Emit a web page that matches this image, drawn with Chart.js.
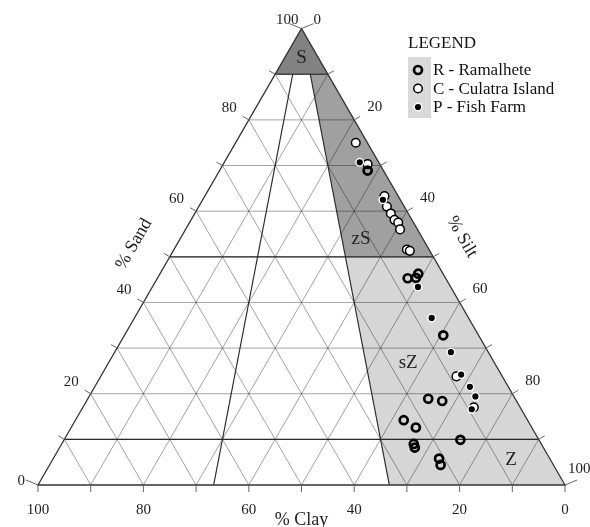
<!DOCTYPE html>
<html>
<head>
<meta charset="utf-8">
<script src="https://cdn.jsdelivr.net/npm/chart.js"></script>
<style>
  html, body { margin: 0; padding: 0; background: #fff; }
  #tern { display: block; }
</style>
</head>
<body>
<canvas id="tern" width="590" height="527"></canvas>
<script>
/* data - % sand / % silt / % clay for each sample */
const ramSand = [68.9, 45.3, 46.3, 45.4, 32.8, 18.9, 18.4, 14.2, 12.6, 9.0, 8.2, 9.9, 5.8, 4.4];
const ramSilt = [28.1, 47.5, 49.0, 49.0, 60.5, 64.6, 67.5, 62.3, 65.4, 66.8, 67.4, 75.2, 73.2, 74.2];
const ramClay = [3.0, 7.2, 4.7, 5.6, 6.7, 16.5, 14.1, 23.5, 22.0, 24.2, 24.4, 14.9, 21.0, 21.4];

const culSand = [75.0, 70.3, 63.3, 61.0, 59.5, 58.1, 57.5, 56.0, 51.6, 51.3, 23.8, 17.0];
const culSilt = [22.8, 27.4, 34.1, 35.7, 37.2, 38.6, 39.6, 40.7, 44.2, 44.9, 67.5, 74.2];
const culClay = [2.2, 2.3, 2.6, 3.3, 3.3, 3.3, 2.9, 3.3, 4.2, 3.8, 8.7, 8.8];

const fishSand = [70.7, 62.5, 43.4, 36.6, 29.1, 24.2, 21.5, 19.4, 16.6];
const fishSilt = [25.7, 34.2, 50.4, 56.4, 63.8, 68.2, 71.2, 73.3, 74.0];
const fishClay = [3.6, 3.3, 6.2, 7.0, 7.1, 7.6, 7.3, 7.3, 9.4];

const tickSteps = [0, 10, 20, 30, 40, 50, 60, 70, 80, 90, 100];
const tickLabels = [0, 20, 40, 60, 80, 100];
const legendLabels = ['R - Ramalhete', 'C - Culatra Island', 'P - Fish Farm'];
const classNames = ['S', 'zS', 'sZ', 'Z'];
// where the class names sit (sand, silt, clay)
const classPos = [[93.6, 3.2, 3.2], [53.8, 34.4, 11.8], [26.7, 56.9, 16.4], [5.5, 87.0, 7.5]];

const H = Math.sqrt(3) / 2;
const FONT = '"Liberation Serif", "Times New Roman", serif';

function toXY(sand, silt, clay) {
    return { x: silt + sand / 2, y: sand * H };
}
function points(sand, silt, clay) {
    return sand.map(function (s, i) { return toXY(s, silt[i], clay[i]); });
}

/* the triangle, fields, grid, ticks and labels */
const ternaryPlugin = {
    id: 'ternary',
    beforeDatasetsDraw(chart) {
        const ctx = chart.ctx;
        const sx = chart.scales.x, sy = chart.scales.y;
        function P(sand, silt, clay) {
            const p = toXY(sand, silt, clay);
            return [sx.getPixelForValue(p.x), sy.getPixelForValue(p.y)];
        }
        function poly(pts, fill) {
            ctx.beginPath();
            pts.forEach(function (p, i) { i ? ctx.lineTo(p[0], p[1]) : ctx.moveTo(p[0], p[1]); });
            ctx.closePath();
            ctx.fillStyle = fill;
            ctx.fill();
        }
        function line(a, b) {
            ctx.beginPath();
            ctx.moveTo(a[0], a[1]);
            ctx.lineTo(b[0], b[1]);
            ctx.stroke();
        }
        ctx.save();

        // fields
        poly([P(100, 0, 0), P(90, 10, 0), P(90, 0, 10)], '#828282');
        poly([P(90, 10 * 2 / 3, 10 / 3), P(90, 10, 0), P(50, 50, 0), P(50, 50 * 2 / 3, 50 / 3)], '#a0a0a0');
        poly([P(50, 50 * 2 / 3, 50 / 3), P(50, 50, 0), P(0, 100, 0), P(0, 200 / 3, 100 / 3)], '#d6d6d6');

        // grid every 10 %
        ctx.strokeStyle = 'rgba(0,0,0,0.36)';
        ctx.lineWidth = 1;
        for (let v = 10; v < 100; v += 10) {
            line(P(v, 0, 100 - v), P(v, 100 - v, 0));
            line(P(100 - v, 0, v), P(0, 100 - v, v));
            line(P(100 - v, v, 0), P(0, v, 100 - v));
        }

        // class boundaries
        ctx.strokeStyle = '#2a2a2a';
        ctx.lineWidth = 1.2;
        [10, 50, 90].forEach(function (s) { line(P(s, 0, 100 - s), P(s, 100 - s, 0)); });
        line(P(90, 10 / 3, 20 / 3), P(0, 100 / 3, 200 / 3));
        line(P(90, 20 / 3, 10 / 3), P(0, 200 / 3, 100 / 3));

        // outline
        ctx.strokeStyle = '#333';
        ctx.lineWidth = 1.3;
        const A = P(100, 0, 0), BL = P(0, 0, 100), BR = P(0, 100, 0);
        ctx.beginPath();
        ctx.moveTo(A[0], A[1]); ctx.lineTo(BL[0], BL[1]); ctx.lineTo(BR[0], BR[1]); ctx.closePath();
        ctx.stroke();

        // ticks
        ctx.strokeStyle = '#666';
        ctx.lineWidth = 1;
        tickSteps.forEach(function (v) {
            const b = P(0, 100 - v, v);
            line(b, [b[0], b[1] + 7]);
            if (v > 0 && v < 100) {
                const l = P(v, 0, 100 - v);
                line(l, [l[0] - 6, l[1] - 3.5]);
                const r = P(100 - v, v, 0);
                line(r, [r[0] + 6, r[1] - 3.5]);
            }
        });
        line(A, [A[0] - 12, A[1] - 5]);
        line(A, [A[0] + 12, A[1] - 5]);
        line(BL, [BL[0] - 12, BL[1] - 5]);
        line(BR, [BR[0] + 12, BR[1] - 5]);

        // tick labels
        ctx.fillStyle = '#222';
        ctx.font = '15px ' + FONT;
        ctx.textBaseline = 'middle';
        tickLabels.forEach(function (v) {
            const b = P(0, 100 - v, v);
            ctx.textAlign = 'center';
            ctx.fillText(String(v), b[0], b[1] + 25);

            const l = P(v, 0, 100 - v);
            ctx.textAlign = 'right';
            if (v === 0) ctx.fillText('0', l[0] - 13, l[1] - 4);
            else if (v === 100) ctx.fillText('100', l[0] - 3, l[1] - 9);
            else ctx.fillText(String(v), l[0] - 12, l[1] - 12);

            const r = P(100 - v, v, 0);
            ctx.textAlign = 'left';
            if (v === 0) ctx.fillText('0', r[0] + 12, r[1] - 9);
            else if (v === 100) ctx.fillText('100', r[0] + 3, r[1] - 16);
            else ctx.fillText(String(v), r[0] + 13, r[1] - 13);
        });

        // axis titles
        ctx.font = '18px ' + FONT;
        ctx.textAlign = 'center';
        ctx.fillText('% Clay', (BL[0] + BR[0]) / 2, BL[1] + 35);
        ctx.save();
        ctx.translate(134, 244);
        ctx.rotate(-Math.PI / 3);
        ctx.fillText('% Sand', 0, 0);
        ctx.restore();
        ctx.save();
        ctx.translate(462, 237);
        ctx.rotate(Math.PI / 3);
        ctx.fillText('% Silt', 0, 0);
        ctx.restore();

        // class names
        ctx.font = '19px ' + FONT;
        classNames.forEach(function (n, i) {
            const p = P(classPos[i][0], classPos[i][1], classPos[i][2]);
            ctx.fillText(n, p[0], p[1]);
        });

        ctx.restore();
    },
    afterDraw(chart) {
        // legend
        const ctx = chart.ctx;
        ctx.save();
        ctx.fillStyle = '#d9d9d9';
        ctx.fillRect(408, 57, 23, 61);
        ctx.fillStyle = '#111';
        ctx.font = '17px ' + FONT;
        ctx.textAlign = 'left';
        ctx.textBaseline = 'middle';
        ctx.fillText('LEGEND', 408, 44);
        const ds = chart.data.datasets;
        [0, 1, 2].forEach(function (i) {
            const y = 70 + i * 18.5;
            const d = ds.find(function (x) { return x.key === i; });
            ctx.beginPath();
            ctx.arc(418, y, d.pointRadius, 0, Math.PI * 2);
            if (d.backgroundColor !== 'rgba(0,0,0,0)') {
                ctx.fillStyle = d.backgroundColor;
                ctx.fill();
            }
            ctx.lineWidth = d.borderWidth;
            ctx.strokeStyle = d.borderColor;
            ctx.stroke();
            ctx.fillStyle = '#111';
            ctx.fillText(legendLabels[i], 433, y + 1);
        });
        ctx.restore();
    }
};

const ctx = document.getElementById('tern');
new Chart(ctx, {
    type: 'scatter',
    data: {
        datasets: [{
            key: 0,
            label: legendLabels[0],
            data: points(ramSand, ramSilt, ramClay),
            pointRadius: 4,
            borderWidth: 2.7,
            borderColor: '#000',
            backgroundColor: 'rgba(0,0,0,0)',
            order: 1
        }, {
            key: 1,
            label: legendLabels[1],
            data: points(culSand, culSilt, culClay),
            pointRadius: 4.3,
            borderWidth: 1.5,
            borderColor: '#000',
            backgroundColor: '#fff',
            order: 3
        }, {
            key: 2,
            label: legendLabels[2],
            data: points(fishSand, fishSilt, fishClay),
            pointRadius: 3.8,
            borderWidth: 1.4,
            borderColor: '#fff',
            backgroundColor: '#000',
            order: 2
        }]
    },
    options: {
        responsive: false,
        animation: false,
        clip: false,
        layout: { padding: { left: 38, right: 25, top: 28.6, bottom: 42 } },
        scales: {
            x: { type: 'linear', min: 0, max: 100, display: false },
            y: { type: 'linear', min: 0, max: 100 * Math.sqrt(3) / 2, display: false }
        },
        plugins: {
            legend: { display: false },
            tooltip: { enabled: false }
        }
    },
    plugins: [ternaryPlugin]
});
</script>
</body>
</html>
